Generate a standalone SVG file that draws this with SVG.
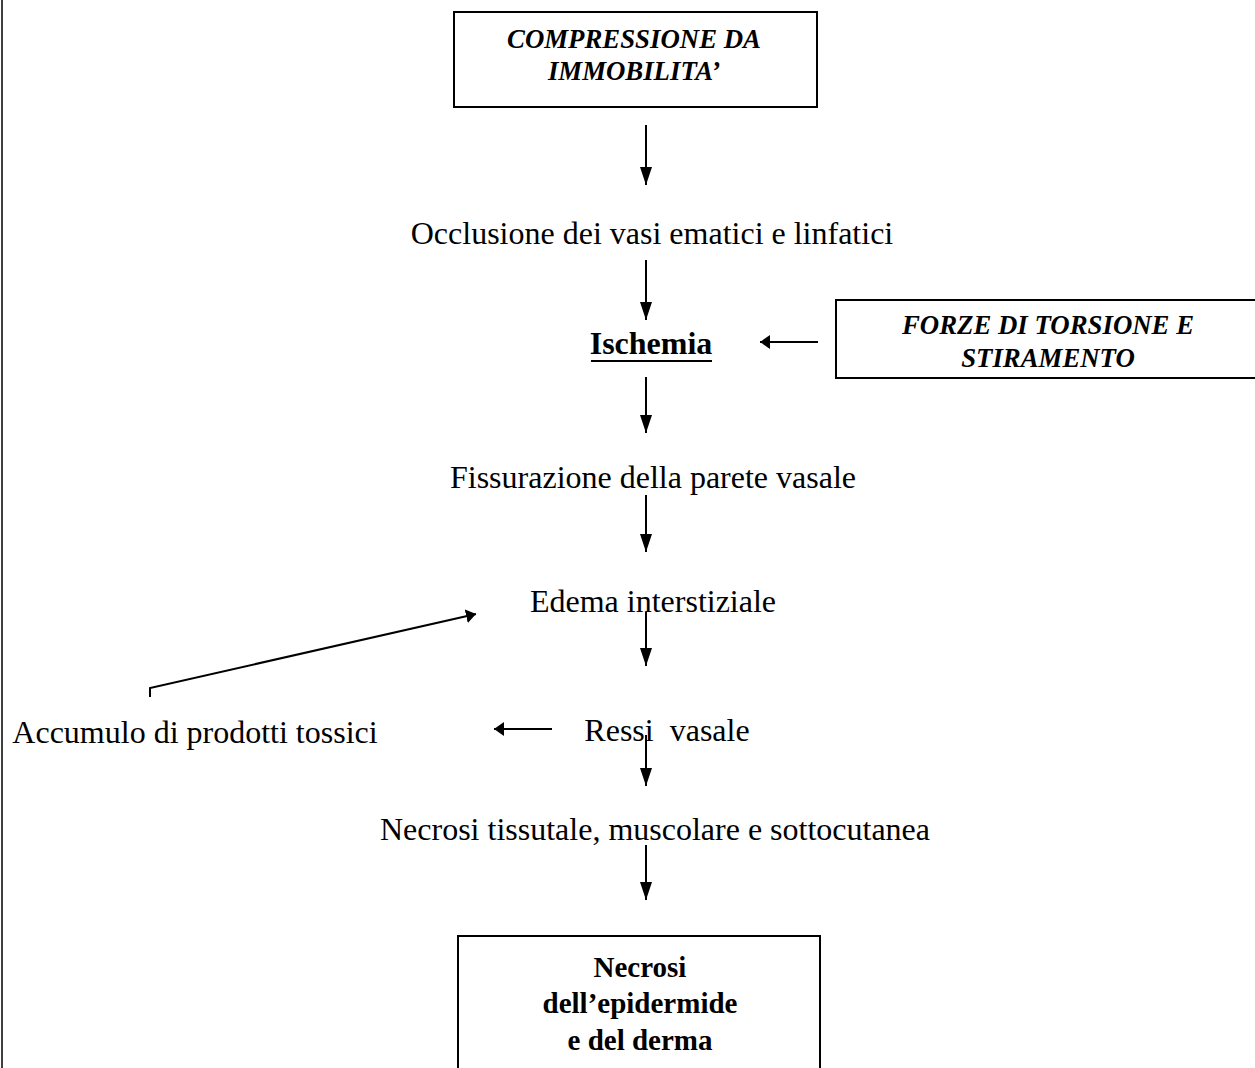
<svg xmlns="http://www.w3.org/2000/svg" width="1255" height="1068" viewBox="0 0 1255 1068">
<style>
text{font-family:"Liberation Serif","Times New Roman",serif;fill:#000}
.t{font-size:32px;text-anchor:middle}
.bi{font-size:26.8px;font-weight:bold;font-style:italic;text-anchor:middle}
.b{font-size:29px;font-weight:bold;text-anchor:middle}
.box{fill:#fff;stroke:#000;stroke-width:2}
.c{stroke:#000;stroke-width:2;fill:none}
</style>
<defs>
<marker id="ah" markerWidth="10" markerHeight="14" refX="10" refY="7" orient="auto" markerUnits="userSpaceOnUse">
<path d="M0,0 L10,7 L0,14 Z" fill="#000"/>
</marker>
<marker id="ah2" markerWidth="18" markerHeight="12" refX="18" refY="6" orient="auto" markerUnits="userSpaceOnUse">
<path d="M0,0 L18,6 L0,12 Z" fill="#000"/>
</marker>
</defs>
<rect width="1255" height="1068" fill="#fff"/>
<line x1="2" y1="0" x2="2" y2="1068" stroke="#000" stroke-width="1.5"/>
<g id="connectors">
<line class="c" x1="646" y1="125" x2="646" y2="185" marker-end="url(#ah2)"/>
<line class="c" x1="646" y1="260" x2="646" y2="320" marker-end="url(#ah2)"/>
<line class="c" x1="818" y1="342" x2="760" y2="342" marker-end="url(#ah)"/>
<line class="c" x1="646" y1="377" x2="646" y2="433" marker-end="url(#ah2)"/>
<line class="c" x1="646" y1="495" x2="646" y2="552" marker-end="url(#ah2)"/>
<line class="c" x1="646" y1="612" x2="646" y2="666" marker-end="url(#ah2)"/>
<polyline class="c" points="150,697 150,688 476,614" marker-end="url(#ah)"/>
<line class="c" x1="552" y1="729" x2="494" y2="729" marker-end="url(#ah)"/>
<line class="c" x1="646" y1="735" x2="646" y2="786" marker-end="url(#ah2)"/>
<line class="c" x1="646" y1="845" x2="646" y2="900" marker-end="url(#ah2)"/>
</g>
<g id="n-compressione">
<rect class="box" x="454" y="12" width="363" height="95"/>
<text class="bi" x="634" y="48">COMPRESSIONE  DA</text>
<text class="bi" x="634" y="80">IMMOBILITA’</text>
</g>
<g id="n-occlusione">
<text class="t" x="652" y="244">Occlusione dei vasi ematici e linfatici</text>
</g>
<g id="n-ischemia">
<text class="b" x="651" y="354" style="font-size:32px">Ischemia</text>
<line x1="591" y1="361" x2="712" y2="361" stroke="#000" stroke-width="2"/>
</g>
<g id="n-forze">
<rect class="box" x="836" y="300" width="430" height="78"/>
<text class="bi" x="1048" y="334">FORZE DI TORSIONE E</text>
<text class="bi" x="1048" y="367">STIRAMENTO</text>
</g>
<g id="n-fissurazione">
<text class="t" x="653" y="488">Fissurazione della parete vasale</text>
</g>
<g id="n-edema">
<text class="t" x="653" y="612">Edema interstiziale</text>
</g>
<g id="n-accumulo">
<text class="t" x="195" y="743">Accumulo di prodotti tossici</text>
</g>
<g id="n-ressi">
<text class="t" x="667" y="741" xml:space="preserve">Ressi  vasale</text>
</g>
<g id="n-necrosi-t">
<text class="t" x="655" y="840">Necrosi tissutale, muscolare e sottocutanea</text>
</g>
<g id="n-necrosi">
<rect class="box" x="458" y="936" width="362" height="140"/>
<text class="b" x="640" y="977">Necrosi</text>
<text class="b" x="640" y="1013">dell’epidermide</text>
<text class="b" x="640" y="1050">e del derma</text>
</g>
</svg>
